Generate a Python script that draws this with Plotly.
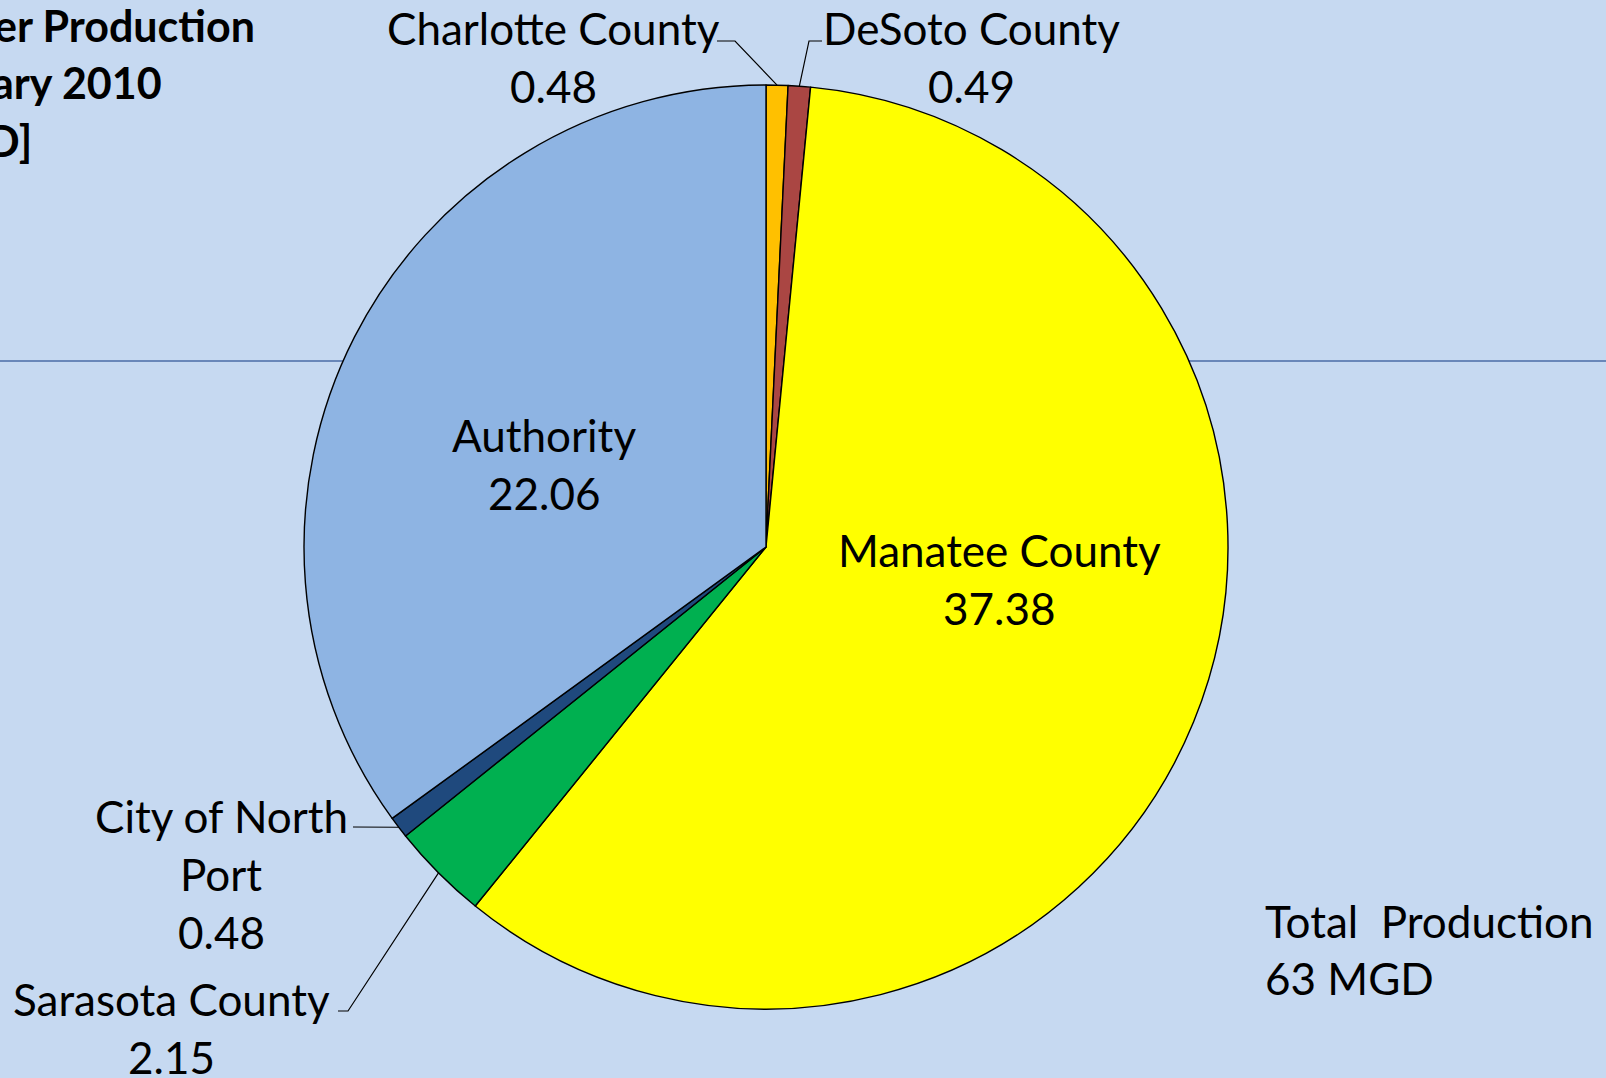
import math

import plotly.graph_objects as go

regions = ["Charlotte County", "DeSoto County", "Manatee County", "Sarasota County", "City of North Port", "Authority"]
production = [0.48, 0.49, 37.38, 2.15, 0.48, 22.06]
slice_colors = ["#FFC000", "#AA4643", "#FFFF00", "#00B050", "#1F497D", "#8EB4E3"]
label_lines = [["Charlotte County"], ["DeSoto County"], ["Manatee County"], ["Sarasota County"], ["City of North", "Port"], ["Authority"]]
title_lines = ["er Production", "ary 2010", "D]"]
total_lines = ["Total\u00a0 Production", "63 MGD"]

W, H = 1606, 1078
CX, CY, R = 766, 547, 462
FONT = "Lato"
SIZE = 44
LINE = 58

# label block position (centre x, first line y) in pixels
label_pos = [(553, 28), (971, 28), (999, 550), (171, 999), (221, 816), (544, 435)]
# leader line elbows, from the label side towards the slice
leaders = {0: [(717, 41), (735, 41)], 1: [(822, 41), (809, 41)], 3: [(338, 1011), (348, 1011)], 4: [(353, 827)]}


def px(x, y):
    return x / W, 1 - y / H


fig = go.Figure(go.Pie(
    labels=regions,
    values=production,
    sort=False,
    direction="clockwise",
    rotation=0,
    marker=dict(colors=slice_colors, line=dict(color="black", width=1.4)),
    textinfo="none",
    hoverinfo="label+value",
    showlegend=False,
    domain=dict(x=[(CX - R) / W, (CX + R) / W], y=[1 - (CY + R) / H, 1 - (CY - R) / H]),
))

annotations = []
for i, lines in enumerate(label_lines):
    x, y = label_pos[i]
    for j, text in enumerate(lines + [f"{production[i]:.2f}"]):
        ax, ay = px(x, y + j * LINE)
        annotations.append(dict(x=ax, y=ay, xref="paper", yref="paper", text=text, showarrow=False,
                                xanchor="center", yanchor="middle", font=dict(family=FONT, size=SIZE, color="black")))

for j, text in enumerate(title_lines):
    ax, ay = px([257, 164, 34][j], 26 + j * 57)
    annotations.append(dict(x=ax, y=ay, xref="paper", yref="paper", text=f"<b>{text}</b>", showarrow=False,
                            xanchor="right", yanchor="middle", font=dict(family=FONT, size=43, color="black")))

for j, text in enumerate(total_lines):
    ax, ay = px(1263, 921 + j * 57)
    annotations.append(dict(x=ax, y=ay, xref="paper", yref="paper", text=text, showarrow=False,
                            xanchor="left", yanchor="middle", font=dict(family=FONT, size=SIZE, color="black")))

total = sum(production)
shapes = [dict(type="line", xref="paper", yref="paper", x0=0, x1=1, y0=1 - 361 / H, y1=1 - 361 / H,
               line=dict(color="#4A6BA6", width=1.3), layer="below")]
cum = 0
for i, v in enumerate(production):
    mid = (cum + v / 2) / total * 2 * math.pi
    cum += v
    if i not in leaders:
        continue
    pts = leaders[i] + [(CX + R * math.sin(mid), CY - R * math.cos(mid))]
    path = "M " + " L ".join(f"{px(x, y)[0]:.5f},{px(x, y)[1]:.5f}" for x, y in pts)
    shapes.append(dict(type="path", xref="paper", yref="paper", path=path, line=dict(color="black", width=1.2)))

fig.update_layout(
    width=W, height=H,
    margin=dict(l=0, r=0, t=0, b=0),
    paper_bgcolor="#C6D9F1",
    plot_bgcolor="#C6D9F1",
    annotations=annotations,
    shapes=shapes,
)
fig.write_html("out.html", config={"displayModeBar": False},
               post_script="document.body.style.margin='0';document.body.style.overflow='hidden';")
